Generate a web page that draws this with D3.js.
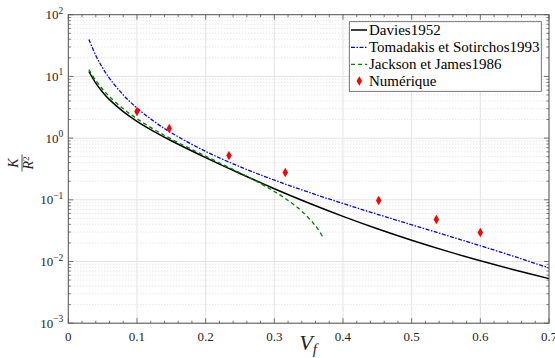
<!DOCTYPE html>
<html><head><meta charset="utf-8">
<script src="https://cdn.jsdelivr.net/npm/d3@7"></script>
<style>body{margin:0;background:#fff}svg{display:block}</style>
</head><body>
<script>
// ---- data ----
const vf = [0.03,0.04,0.05,0.06,0.08,0.1,0.125,0.15,0.2,0.25,0.3,0.35,0.4,0.45,0.5,0.55,0.6,0.65,0.7];
const davies = [12.01,7.785,5.551,4.202,2.685,1.872,1.275,0.9048,0.4826,0.2667,0.1514,0.08875,0.05389,0.03392,0.0221,0.01485,0.01027,0.00728,0.00528];
const tomadakis = [39.6,21.82,13.68,9.30,5.01,3.07,1.859,1.219,0.6085,0.3432,0.2084,0.1327,0.0871,0.0583,0.0394,0.0267,0.0180,0.0120,0.00784];
const vfJackson = [0.03,0.04,0.05,0.06,0.08,0.1,0.125,0.15,0.2,0.25,0.28,0.3,0.32,0.34,0.36,0.37];
const jackson = [12.88,8.58,6.194,4.706,2.99,2.057,1.378,0.966,0.5088,0.2732,0.1832,0.1365,0.0977,0.0652,0.0378,0.0256];
const vfNum = [0.1,0.147,0.234,0.316,0.452,0.536,0.6];
const numerique = [2.69,1.43,0.52,0.277,0.097,0.048,0.0294];
const xTicks = [0,0.1,0.2,0.3,0.4,0.5,0.6,0.7];
const yExps = [-3,-2,-1,0,1,2];
const legendLabels = ["Davies1952","Tomadakis et Sotirchos1993","Jackson et James1986","Numérique"];

const W=555,H=358;
const L=68.3,R=549,T=14.7,B=323.2;
const FONT="Liberation Serif";
const x=d3.scaleLinear().domain([0,0.7]).range([L,R]);
const y=d3.scaleLog().domain([1e-3,1e2]).range([B,T]);
const svg=d3.select("body").append("svg").attr("width",W).attr("height",H)
 .attr("font-family",FONT).style("font-family",FONT);

// grid
const g=svg.append("g");
const minorY=[];
for(let e=-3;e<2;e++) for(let k=2;k<=9;k++) minorY.push(k*Math.pow(10,e));
g.selectAll(".ym").data(minorY).join("line").attr("x1",L).attr("x2",R)
 .attr("y1",d=>y(d)).attr("y2",d=>y(d)).attr("stroke","#d4d4d4").attr("stroke-width",0.8).attr("stroke-dasharray","1,2");
g.selectAll(".yM").data(yExps.map(e=>Math.pow(10,e))).join("line").attr("x1",L).attr("x2",R)
 .attr("y1",d=>y(d)).attr("y2",d=>y(d)).attr("stroke","#e3e3e3").attr("stroke-width",1);
g.selectAll(".xM").data(xTicks).join("line").attr("y1",T).attr("y2",B)
 .attr("x1",d=>x(d)).attr("x2",d=>x(d)).attr("stroke","#e3e3e3").attr("stroke-width",1);

// lines
const line=d3.line().x(d=>x(d[0])).y(d=>y(d[1])).curve(d3.curveCatmullRom);
svg.append("path").datum(vf.map((v,i)=>[v,davies[i]])).attr("d",line)
 .attr("fill","none").attr("stroke","#000").attr("stroke-width",1.5);
svg.append("path").datum(vf.map((v,i)=>[v,tomadakis[i]])).attr("d",line)
 .attr("fill","none").attr("stroke","#0000ff").attr("stroke-width",1.3).attr("stroke-dasharray","4,1.5,1.5,1.5");
svg.append("path").datum(vfJackson.map((v,i)=>[v,jackson[i]])).attr("d",line)
 .attr("fill","none").attr("stroke","#008000").attr("stroke-width",1.3).attr("stroke-dasharray","4,3");
const diamond=d3.symbol().type(d3.symbolDiamond).size(26);
svg.selectAll(".pt").data(vfNum.map((v,i)=>[v,numerique[i]])).join("path")
 .attr("d",diamond).attr("transform",d=>`translate(${x(d[0])},${y(d[1])})`).attr("fill","#ff0000");

// frame & ticks
const axc="#555";
svg.append("rect").attr("x",L).attr("y",T).attr("width",R-L).attr("height",B-T)
 .attr("fill","none").attr("stroke",axc).attr("stroke-width",1);
const minorX=d3.range(0,71,2).map(v=>v/100).filter(v=>Math.round(v*100)%10!==0);
const tk=svg.append("g").attr("stroke",axc).attr("stroke-width",0.8);
xTicks.forEach(v=>{tk.append("line").attr("x1",x(v)).attr("x2",x(v)).attr("y1",B).attr("y2",B-5);
  tk.append("line").attr("x1",x(v)).attr("x2",x(v)).attr("y1",T).attr("y2",T+5);});
minorX.forEach(v=>{tk.append("line").attr("x1",x(v)).attr("x2",x(v)).attr("y1",B).attr("y2",B-2.5);
  tk.append("line").attr("x1",x(v)).attr("x2",x(v)).attr("y1",T).attr("y2",T+2.5);});
yExps.forEach(e=>{const yy=y(Math.pow(10,e));
  tk.append("line").attr("x1",L).attr("x2",L+5).attr("y1",yy).attr("y2",yy);
  tk.append("line").attr("x1",R).attr("x2",R-5).attr("y1",yy).attr("y2",yy);});
minorY.forEach(v=>{const yy=y(v);
  tk.append("line").attr("x1",L).attr("x2",L+2.5).attr("y1",yy).attr("y2",yy);
  tk.append("line").attr("x1",R).attr("x2",R-2.5).attr("y1",yy).attr("y2",yy);});

// tick labels
svg.selectAll(".xl").data(xTicks).join("text").attr("x",d=>x(d)).attr("y",341)
 .attr("text-anchor","middle").attr("font-size",13).attr("fill","#262626").text(d=>d===0?"0":d3.format(".1f")(d));
yExps.forEach(e=>{
  const t=svg.append("text").attr("x",L-5).attr("y",y(Math.pow(10,e))+4.5).attr("text-anchor","end")
   .attr("font-size",13).attr("fill","#262626");
  t.append("tspan").text("10");
  t.append("tspan").attr("dy",-5.5).attr("font-size",9.5).text(e<0?"\u2212"+(-e):String(e));
});

// axis labels
const xl=svg.append("text").attr("x",308).attr("y",350).attr("text-anchor","middle").attr("fill","#262626")
 .attr("font-style","italic").attr("font-size",22);
xl.append("tspan").text("V");
xl.append("tspan").attr("dy",4).attr("font-size",15).text("f");
const yl=svg.append("g").attr("transform","translate(22,163) rotate(-90)");
yl.append("text").attr("x",0).attr("y",-4).attr("text-anchor","middle").attr("font-style","italic")
 .attr("font-size",14).attr("fill","#262626").text("K");
yl.append("line").attr("x1",-8.5).attr("x2",8.5).attr("y1",0).attr("y2",0).attr("stroke","#262626").attr("stroke-width",0.8);
const rl=yl.append("text").attr("x",0).attr("y",11).attr("text-anchor","middle").attr("font-style","italic")
 .attr("font-size",14).attr("fill","#262626");
rl.append("tspan").text("R");
rl.append("tspan").attr("dy",-4).attr("font-size",9).attr("font-style","normal").text("2");

// legend
const lg=svg.append("g");
lg.append("rect").attr("x",349.3).attr("y",21.7).attr("width",192).attr("height",69.6)
 .attr("fill","#fff").attr("stroke","#555").attr("stroke-width",0.8);
const rows=[30,47.3,64.3,81];
const styles=[{c:"#000",w:1.5,d:null},{c:"#0000ff",w:1.3,d:"4,1.5,1.5,1.5"},{c:"#008000",w:1.3,d:"4,3"}];
styles.forEach((s,i)=>{lg.append("line").attr("x1",351).attr("x2",367).attr("y1",rows[i]).attr("y2",rows[i])
  .attr("stroke",s.c).attr("stroke-width",s.w).attr("stroke-dasharray",s.d);});
lg.append("path").attr("d",diamond).attr("transform",`translate(359.3,${rows[3]})`).attr("fill","#ff0000");
legendLabels.forEach((t,i)=>{lg.append("text").attr("x",369).attr("y",rows[i]+5).attr("font-size",15)
  .attr("fill","#000").text(t);});
</script>
</body></html>
